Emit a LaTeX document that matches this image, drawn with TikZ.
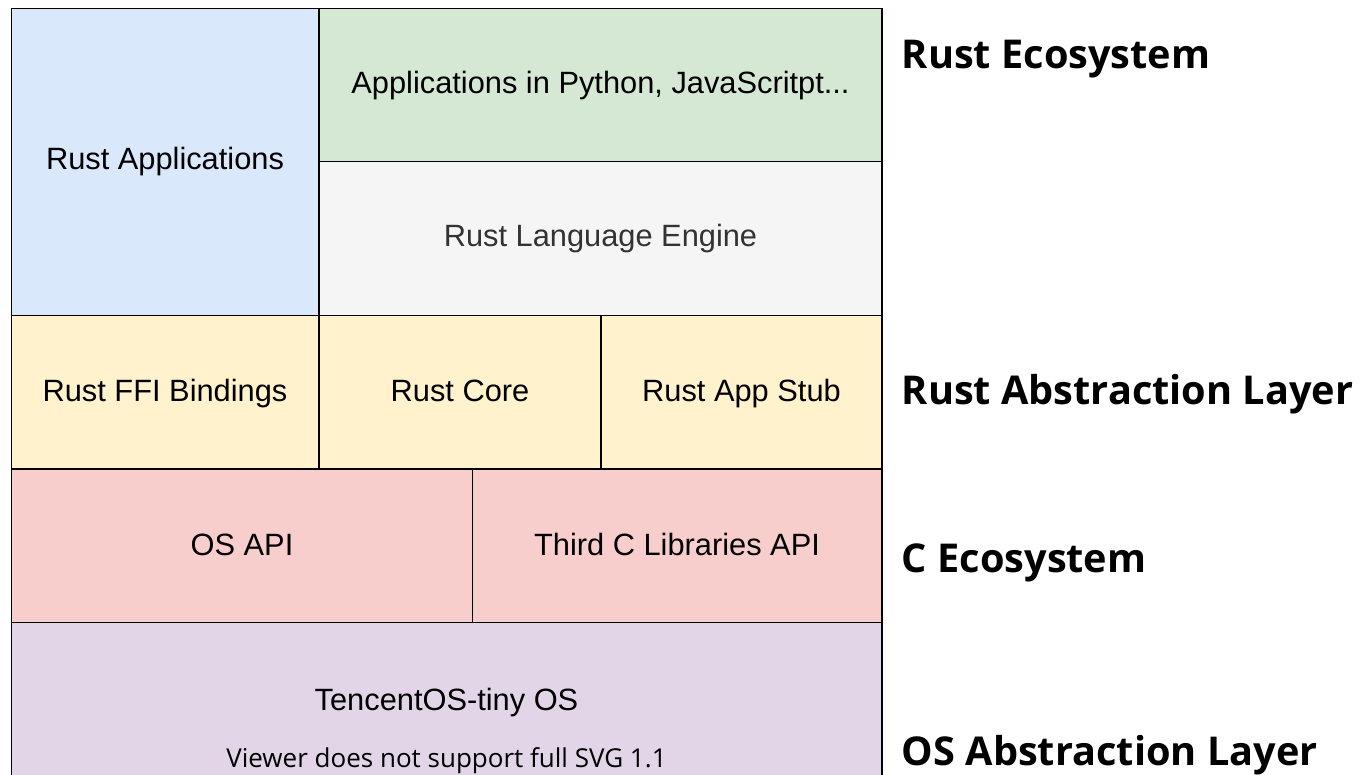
\documentclass[tikz,border=0pt]{standalone}
\usepackage{fontspec}
\setmainfont{Liberation Sans}
\newfontfamily\layerfont{Open Sans}

\definecolor{rustblue}{HTML}{DAE8FC}
\definecolor{langgreen}{HTML}{D5E8D4}
\definecolor{enginegray}{HTML}{F5F5F5}
\definecolor{textgray}{HTML}{333333}
\definecolor{abstyellow}{HTML}{FFF2CC}
\definecolor{cred}{HTML}{F8CECC}
\definecolor{ospurple}{HTML}{E1D5E7}

\tikzset{
  boxtext/.style={anchor=base, inner sep=0pt, font=\fontsize{30.8}{37}\selectfont},
  layername/.style={anchor=base west, inner sep=0pt, font=\layerfont\bfseries\fontsize{39.7}{47}\selectfont},
}

\begin{document}
\begin{tikzpicture}[x=1pt, y=-1pt, line width=1.8pt]
\useasboundingbox (0,0) rectangle (1361,775);
\clip (0,0) rectangle (1361,775);
\fill[white] (0,0) rectangle (1361,775);

% Rust ecosystem
\filldraw[fill=rustblue] (11.5,8.5) rectangle (319,315.5);
\filldraw[fill=langgreen] (319,8.5) rectangle (882,161.5);
\filldraw[fill=enginegray] (319,161.5) rectangle (882,315.5);
\node[boxtext] (rapps) at (165,170) {Rust Applications};
\node[boxtext] (pyapps) at (600.5,94) {Applications in Python, JavaScritpt...};
\node[boxtext, text=textgray] (engine) at (600.5,247) {Rust Language Engine};

% Rust abstraction layer
\filldraw[fill=abstyellow] (11.5,315.5) rectangle (319,469);
\filldraw[fill=abstyellow] (319,315.5) rectangle (601,469);
\filldraw[fill=abstyellow] (601,315.5) rectangle (882,469);
\node[boxtext] (ffi) at (165,402) {Rust FFI Bindings};
\node[boxtext] (core) at (460,402) {Rust Core};
\node[boxtext] (stub) at (741.5,402) {Rust App Stub};

% C ecosystem
\filldraw[fill=cred] (11.5,469) rectangle (472.5,622.5);
\filldraw[fill=cred] (472.5,469) rectangle (882,622.5);
\node[boxtext] (osapi) at (242,555) {OS API};
\node[boxtext] (clibs) at (677,555) {Third C Libraries API};

% OS layer
\filldraw[fill=ospurple] (11.5,622.5) rectangle (882,800);
\node[boxtext] (tos) at (446.5,710) {TencentOS-tiny OS};
\node[anchor=base, inner sep=0pt, font=\layerfont\fontsize{26}{31}\selectfont] (viewer) at (446.5,767) {Viewer does not support full SVG 1.1};

% layer names
\node[layername] (ecoR) at (901,69) {Rust Ecosystem};
\node[layername] (absR) at (901,405) {Rust Abstraction Layer};
\node[layername] (ecoC) at (901,572) {C Ecosystem};
\node[layername] (absOS) at (901,765) {OS Abstraction Layer};
\end{tikzpicture}
\end{document}
